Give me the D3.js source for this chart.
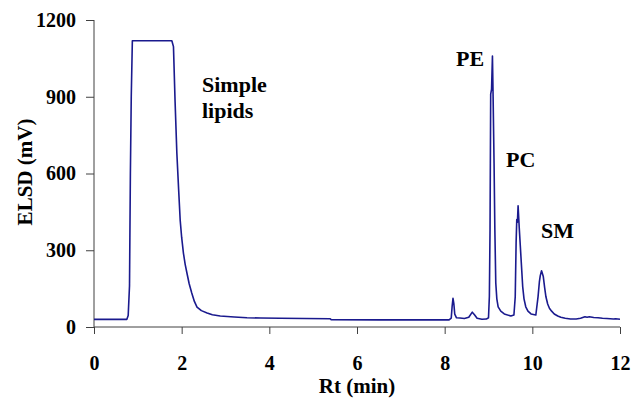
<!DOCTYPE html>
<html lang="en">
<head>
  <meta charset="UTF-8">
  <title>ELSD chromatogram</title>
  <style>
    html, body { margin: 0; background: #fff; }
    svg { display: block; }
    svg text { font-family: "Liberation Serif", "Times New Roman", "DejaVu Serif", serif; font-weight: bold; }
  </style>
</head>
<body>
  <script src="https://d3js.org/d3.v7.min.js"></script>
  <script>
    // retention time (min) and detector signal (mV)
    const rt = [0, 0.5, 0.75, 0.78, 0.81, 0.83, 0.85, 0.875, 1.776, 1.813, 1.85, 1.89, 1.93, 1.966, 2.0, 2.04,
      2.08, 2.12, 2.17, 2.23, 2.29, 2.35, 2.45, 2.58, 2.7, 2.88, 3.2, 3.49, 3.8, 4.25, 4.8, 5.39, 5.41, 6.5,
      7.5, 8.1, 8.15, 8.17, 8.19, 8.21, 8.23, 8.27, 8.35, 8.45, 8.55, 8.63, 8.68, 8.74, 8.85, 8.95, 9.0, 9.02,
      9.035, 9.05, 9.07, 9.09, 9.105, 9.127, 9.145, 9.166, 9.19, 9.22, 9.28, 9.36, 9.51, 9.58, 9.61, 9.63,
      9.645, 9.66, 9.675, 9.7, 9.74, 9.78, 9.81, 9.85, 9.9, 9.97, 10.08, 10.13, 10.16, 10.18, 10.21, 10.25,
      10.28, 10.31, 10.35, 10.39, 10.44, 10.5, 10.58, 10.65, 10.75, 10.87, 11.0, 11.1, 11.2, 11.25, 11.3,
      11.4, 11.5, 11.6, 11.7, 11.85, 11.9, 12.0];
    const elsd = [30, 30, 30, 45, 160, 600, 900, 1119, 1119, 1096, 880, 680, 540, 418, 350, 289,
      245, 211, 170, 133, 100, 78, 64, 55, 48, 43, 39, 36, 35, 34, 33, 32, 29, 28,
      28, 28, 35, 80, 112, 90, 50, 36, 35, 33, 38, 58, 48, 34, 30, 31, 36, 120,
      380, 910, 930, 1059, 900, 640, 380, 172, 110, 79, 62, 51, 43, 47, 118, 330,
      420, 410, 474, 392, 275, 158, 110, 79, 62, 51, 47, 118, 175, 200, 220, 197,
      155, 118, 90, 73, 62, 51, 43, 38, 34, 31, 31, 34, 40, 38, 40,
      37, 36, 34, 33, 31, 32, 30];

    const xTicks = [0, 2, 4, 6, 8, 10, 12];
    const yTicks = [0, 300, 600, 900, 1200];

    const peakNames = ["Simple", "lipids", "PE", "PC", "SM"];
    const peakAt = [[202, 92], [202, 118], [456, 66], [506, 167], [541, 238]];

    const W = 632, H = 400;
    const svg = d3.select("body").append("svg")
      .attr("width", W)
      .attr("height", H);

    const x = d3.scaleLinear().domain([0, 12]).range([94, 620]);
    const y = d3.scaleLinear().domain([0, 1200]).range([327, 20]);

    // x axis
    const gx = svg.append("g")
      .attr("transform", `translate(0,${y(0)})`)
      .call(d3.axisBottom(x).tickValues(xTicks).tickSize(7).tickPadding(22).tickFormat(d3.format("d")));

    // y axis
    const gy = svg.append("g")
      .attr("transform", `translate(${x(0)},0)`)
      .call(d3.axisLeft(y).tickValues(yTicks).tickSize(8).tickPadding(10).tickFormat(d3.format("d")));

    [gx, gy].forEach(g => {
      g.attr("font-family", null).attr("font-size", null);
      g.select(".domain").attr("stroke", "#404040");
      g.selectAll(".tick line").attr("stroke", "#404040");
      g.selectAll(".tick text")
        .attr("fill", "#000")
        .style("font-size", "20px");
    });
    gx.select(".domain").attr("d", `M${x(0)},0H${x(12)}`);
    gy.select(".domain").attr("d", `M0,${y(0)}V${y(1200)}`);

    // trace
    const pts = rt.map((t, i) => [t, elsd[i]]);
    svg.append("path")
      .datum(pts)
      .attr("fill", "none")
      .attr("stroke", "#1a1a8e")
      .attr("stroke-width", 1.6)
      .attr("stroke-linejoin", "round")
      .attr("d", d3.line().x(d => x(d[0])).y(d => y(d[1])));

    // axis titles
    svg.append("text")
      .attr("x", (x(0) + x(12)) / 2)
      .attr("y", 393)
      .attr("text-anchor", "middle")
      .style("font-size", "21px")
      .text("Rt (min)");

    svg.append("text")
      .attr("transform", "translate(32,172) rotate(-90)")
      .attr("text-anchor", "middle")
      .style("font-size", "21px")
      .text("ELSD (mV)");

    // peak labels
    peakNames.forEach((name, i) => {
      svg.append("text")
        .attr("x", peakAt[i][0])
        .attr("y", peakAt[i][1])
        .style("font-size", "22px")
        .text(name);
    });
  </script>
</body>
</html>
